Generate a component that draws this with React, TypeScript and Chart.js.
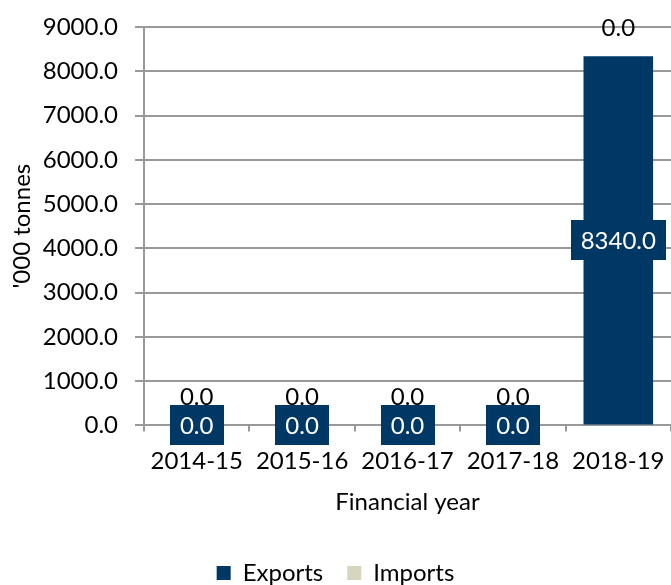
import { useEffect, useRef } from 'react';
import { Chart, registerables } from 'chart.js';

Chart.register(...registerables);

const categories = ['2014-15', '2015-16', '2016-17', '2017-18', '2018-19'];
const exportsValues = [0, 0, 0, 0, 8340];
const importsValues = [0, 0, 0, 0, 0];
const yMin = 0;
const yMax = 9000;
const yStep = 1000;

const EXPORT_COLOR = '#003865';
const IMPORT_COLOR = '#D6D6BE';
const FONT = 'Lato';
const FS = 24;

const labelPlugin = {
  id: 'barLabels',
  afterDatasetsDraw(chart: any) {
    const ctx = chart.ctx;
    ctx.save();
    ctx.font = `${FS}px ${FONT}`;
    ctx.textAlign = 'center';
    ctx.textBaseline = 'middle';
    const m0 = chart.getDatasetMeta(0);
    const m1 = chart.getDatasetMeta(1);
    m1.data.forEach((bar: any, i: number) => {
      const txt = importsValues[i].toFixed(1);
      ctx.fillStyle = '#000';
      ctx.fillText(txt, bar.x, bar.y - 28);
    });
    m0.data.forEach((bar: any, i: number) => {
      const txt = exportsValues[i].toFixed(1);
      const w = ctx.measureText(txt).width;
      const cy = (bar.y + bar.base) / 2;
      const padX = 10;
      const h = 40;
      ctx.fillStyle = EXPORT_COLOR;
      ctx.fillRect(Math.round(bar.x - w / 2 - padX), Math.round(cy - h / 2), Math.round(w + padX * 2), h);
      ctx.fillStyle = '#fff';
      ctx.fillText(txt, bar.x, cy + 1);
    });
    ctx.restore();
  },
};

export default function App() {
  const ref = useRef<HTMLCanvasElement>(null);
  useEffect(() => {
    document.body.style.margin = '0';
    const chart = new Chart(ref.current!, {
      type: 'bar',
      data: {
        labels: categories,
        datasets: [
          { label: 'Exports', data: exportsValues, backgroundColor: EXPORT_COLOR, categoryPercentage: 0.66, barPercentage: 1 },
          { label: 'Imports', data: importsValues, backgroundColor: IMPORT_COLOR, categoryPercentage: 0.66, barPercentage: 1 },
        ],
      },
      options: {
        animation: false,
        responsive: false,
        layout: { padding: { top: 27, right: 0, left: 0, bottom: -10 } },
        plugins: {
          legend: {
            position: 'bottom',
            labels: {
              boxWidth: 14,
              boxHeight: 14,
              color: '#000',
              font: { family: FONT, size: FS },
              padding: 24,
            },
          },
          tooltip: { enabled: false },
        },
        scales: {
          x: {
            stacked: true,
            afterFit: (s: any) => { s.paddingLeft = 0; s.paddingRight = 0; },
            grid: { display: true, drawOnChartArea: false, drawTicks: true, tickLength: 6, color: '#999', lineWidth: 2, offset: true },
            border: { display: true, color: '#999', width: 2 },
            ticks: { color: '#000', font: { family: FONT, size: FS }, padding: 15 },
            title: { display: true, text: 'Financial year', color: '#000', font: { family: FONT, size: FS }, padding: { top: -2, bottom: 20 } },
          },
          y: {
            stacked: true,
            min: yMin,
            max: yMax,
            afterFit: (s: any) => { s.width = 144; s.paddingTop = 0; s.paddingBottom = 0; },
            grid: { color: '#999', lineWidth: 2, tickLength: 9 },
            border: { display: true, color: '#999', width: 2 },
            ticks: {
              stepSize: yStep,
              color: '#000',
              font: { family: FONT, size: FS },
              padding: 17,
              callback: (v: any) => Number(v).toFixed(1),
            },
            title: { display: true, text: "'000 tonnes", color: '#000', font: { family: FONT, size: FS }, padding: { top: 8, bottom: 8 } },
          },
        },
      },
      plugins: [labelPlugin],
    });
    return () => chart.destroy();
  }, []);
  return (
    <div style={{ width: 671, height: 585 }}>
      <canvas ref={ref} width={671} height={585} style={{ display: 'block' }} />
    </div>
  );
}
